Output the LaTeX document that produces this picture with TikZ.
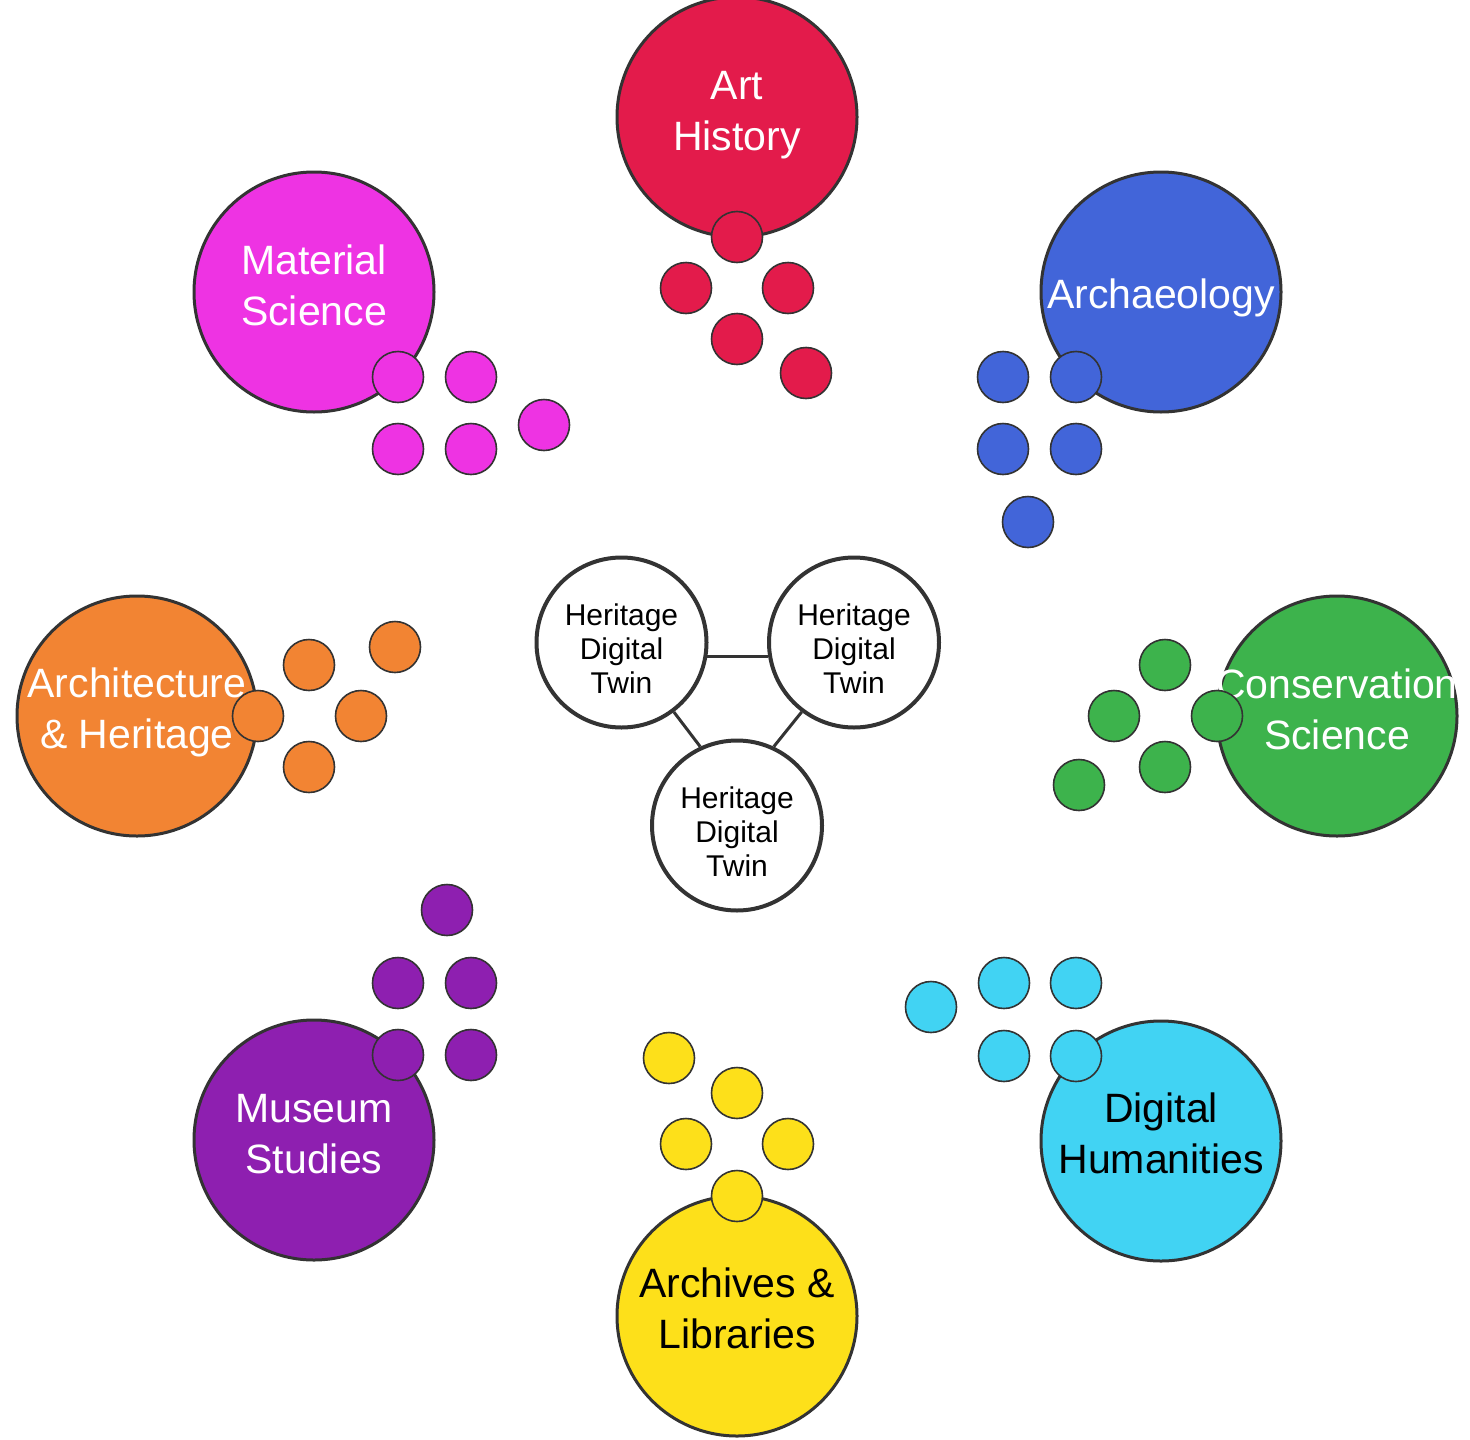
\documentclass[tikz,border=0pt]{standalone}
\usepackage{fontspec}
\setmainfont{Liberation Sans}
\definecolor{cArt}{HTML}{E31B4B}
\definecolor{cMat}{HTML}{EE33E3}
\definecolor{cArc}{HTML}{4265D9}
\definecolor{cArch}{HTML}{F28433}
\definecolor{cCons}{HTML}{3DB34C}
\definecolor{cMus}{HTML}{8E1FB0}
\definecolor{cDH}{HTML}{41D3F3}
\definecolor{cLib}{HTML}{FDE01A}
\definecolor{edge}{HTML}{333333}
\begin{document}
\begin{tikzpicture}[x=1pt,y=-1pt,
  big/.style={circle, draw=edge, line width=3pt, minimum size=240pt, inner sep=0pt},
  small/.style={circle, draw=edge, line width=1.6pt, minimum size=51pt, inner sep=0pt},
  bigtxt/.style={align=center, font=\fontsize{41}{51}\selectfont, inner sep=0pt, anchor=base},
  hdt/.style={circle, draw=edge, line width=4pt, minimum size=170pt, inner sep=0pt, fill=white},
  hdttxt/.style={align=center, font=\fontsize{30}{34}\selectfont, inner sep=0pt, anchor=base},
  conn/.style={draw=edge, line width=3pt},
]
\useasboundingbox (0,0) rectangle (1470,1440);

% ---------- Art History ----------
\node[big, fill=cArt] (art) at (737,117) {};
\node[bigtxt, text=white, yshift=-33pt] (artT) at (art.center) {Art\\History};
\node[small, fill=cArt] (art1) at (737,237) {};
\node[small, fill=cArt] (art2) at (686,288) {};
\node[small, fill=cArt] (art3) at (788,288) {};
\node[small, fill=cArt] (art4) at (737,339) {};
\node[small, fill=cArt] (art5) at (806,373) {};

% ---------- Material Science ----------
\node[big, fill=cMat] (mat) at (314,292) {};
\node[bigtxt, text=white, yshift=-33pt] (matT) at (mat.center) {Material\\Science};
\node[small, fill=cMat] (mat1) at (398,377) {};
\node[small, fill=cMat] (mat2) at (471,377) {};
\node[small, fill=cMat] (mat3) at (398,449) {};
\node[small, fill=cMat] (mat4) at (471,449) {};
\node[small, fill=cMat] (mat5) at (544,425) {};

% ---------- Archaeology ----------
\node[big, fill=cArc] (arc) at (1161,292) {};
\node[bigtxt, text=white, yshift=-16pt] (arcT) at (arc.center) {Archaeology};
\node[small, fill=cArc] (arc1) at (1003,377) {};
\node[small, fill=cArc] (arc2) at (1076,377) {};
\node[small, fill=cArc] (arc3) at (1003,449) {};
\node[small, fill=cArc] (arc4) at (1076,449) {};
\node[small, fill=cArc] (arc5) at (1028,522) {};

% ---------- Architecture & Heritage ----------
\node[big, fill=cArch] (ach) at (137,716) {};
\node[bigtxt, text=white, yshift=-32pt] (achT) at (ach.center) {Architecture\\\& Heritage};
\node[small, fill=cArch] (ach1) at (258,716) {};
\node[small, fill=cArch] (ach2) at (309,665) {};
\node[small, fill=cArch] (ach3) at (395,647) {};
\node[small, fill=cArch] (ach4) at (361,716) {};
\node[small, fill=cArch] (ach5) at (309,767) {};

% ---------- Conservation Science ----------
\node[big, fill=cCons] (con) at (1337,716) {};
\begin{scope}
  \clip (con.west |- con.north) rectangle (con.east |- con.south);
  \node[bigtxt, text=white, yshift=-33pt] (conT) at (con.center) {Conservation\\Science};
\end{scope}
\node[small, fill=cCons] (con1) at (1165,665) {};
\node[small, fill=cCons] (con2) at (1114,716) {};
\node[small, fill=cCons] (con3) at (1217,716) {};
\node[small, fill=cCons] (con4) at (1165,767) {};
\node[small, fill=cCons] (con5) at (1079,785) {};

% ---------- Museum Studies ----------
\node[big, fill=cMus] (mus) at (314,1140) {};
\node[bigtxt, text=white, yshift=-33pt] (musT) at (mus.center) {Museum\\Studies};
\node[small, fill=cMus] (mus1) at (447,910) {};
\node[small, fill=cMus] (mus2) at (398,983) {};
\node[small, fill=cMus] (mus3) at (471,983) {};
\node[small, fill=cMus] (mus4) at (398,1055) {};
\node[small, fill=cMus] (mus5) at (471,1055) {};

% ---------- Digital Humanities ----------
\node[big, fill=cDH] (dh) at (1161,1141) {};
\node[bigtxt, text=black, yshift=-32pt] (dhT) at (dh.center) {Digital\\Humanities};
\node[small, fill=cDH] (dh1) at (931,1007) {};
\node[small, fill=cDH] (dh2) at (1004,983) {};
\node[small, fill=cDH] (dh3) at (1076,983) {};
\node[small, fill=cDH] (dh4) at (1004,1056) {};
\node[small, fill=cDH] (dh5) at (1076,1056) {};

% ---------- Archives & Libraries ----------
\node[big, fill=cLib] (lib) at (737,1316) {};
\node[bigtxt, text=black, yshift=-32pt] (libT) at (lib.center) {Archives \&\\Libraries};
\node[small, fill=cLib] (lib1) at (669,1058) {};
\node[small, fill=cLib] (lib2) at (737,1093) {};
\node[small, fill=cLib] (lib3) at (686,1144) {};
\node[small, fill=cLib] (lib4) at (788,1144) {};
\node[small, fill=cLib] (lib5) at (737,1196) {};

% ---------- Heritage Digital Twins ----------
\node[hdt] (h1) at (621.5,642.5) {};
\node[hdt] (h2) at (854,642.5) {};
\node[hdt] (h3) at (737,825.5) {};
\draw[conn] (h1.-9.4) -- (h2.189.4);
\draw[conn] (h1.-53) -- (h3.115);
\draw[conn] (h2.233) -- (h3.65);
\node[hdttxt, yshift=-51pt] (h1T) at (h1.center) {Heritage\\Digital\\Twin};
\node[hdttxt, yshift=-51pt] (h2T) at (h2.center) {Heritage\\Digital\\Twin};
\node[hdttxt, yshift=-51pt] (h3T) at (h3.center) {Heritage\\Digital\\Twin};
\end{tikzpicture}
\end{document}
